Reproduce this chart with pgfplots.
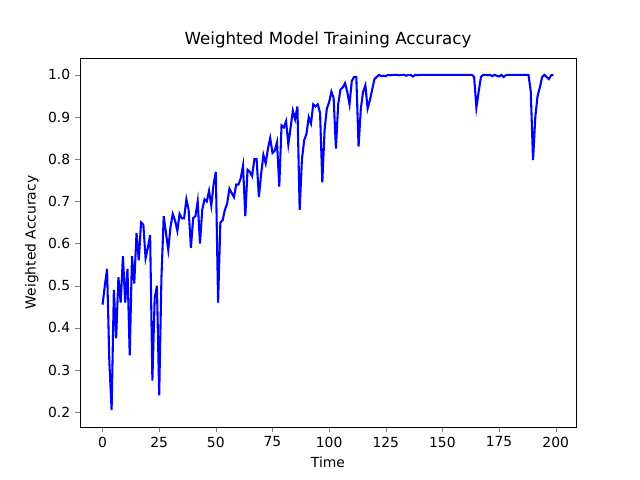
\documentclass[border=0pt]{standalone}
\usepackage{pgfplots}
\pgfplotsset{compat=1.18}
\usepackage{fontspec}
\setmainfont{DejaVu Sans}
\begin{document}
\begin{tikzpicture}
\useasboundingbox (-57.6pt,-38.16pt) rectangle (403.2pt,307.44pt);
\begin{axis}[at={(0,0)},anchor=south west,scale only axis,width=357.1pt,height=265.7pt,
xmin=-9.95,xmax=208.95,ymin=0.165,ymax=1.04,
xtick={0,25,...,200},ytick={0.2,0.3,...,1.0},
yticklabel style={/pgf/number format/.cd,fixed,fixed zerofill,precision=1},
/pgf/number format/assume math mode=true,
tick align=outside,tick pos=left,major tick length=3.5pt,
tick label style={font=\fontsize{10}{12}\selectfont},
label style={font=\fontsize{10}{12}\selectfont},
xlabel={Time},ylabel={Weighted Accuracy},
title={Weighted Model Training Accuracy},title style={font=\fontsize{12}{14}\selectfont,yshift=-2pt},
axis line style={line width=0.6pt}]
\addplot[blue,line width=1.5pt] coordinates {
(0,0.455)(1,0.50)(2,0.54)(3,0.32)(4,0.205)(5,0.49)(6,0.375)(7,0.52)(8,0.46)(9,0.57)
(10,0.46)(11,0.54)(12,0.335)(13,0.57)(14,0.505)(15,0.625)(16,0.56)(17,0.65)(18,0.645)(19,0.565)
(20,0.59)(21,0.62)(22,0.275)(23,0.47)(24,0.50)(25,0.24)(26,0.52)(27,0.665)(28,0.625)(29,0.585)
(30,0.64)(31,0.67)(32,0.655)(33,0.63)(34,0.67)(35,0.66)(36,0.66)(37,0.705)(38,0.68)(39,0.59)
(40,0.66)(41,0.665)(42,0.70)(43,0.60)(44,0.68)(45,0.705)(46,0.70)(47,0.725)(48,0.69)(49,0.74)
(50,0.77)(51,0.46)(52,0.65)(53,0.655)(54,0.68)(55,0.695)(56,0.73)(57,0.72)(58,0.71)(59,0.74)
(60,0.74)(61,0.755)(62,0.785)(63,0.665)(64,0.775)(65,0.77)(66,0.76)(67,0.80)(68,0.80)(69,0.71)
(70,0.765)(71,0.81)(72,0.79)(73,0.825)(74,0.85)(75,0.815)(76,0.82)(77,0.84)(78,0.735)(79,0.88)
(80,0.875)(81,0.89)(82,0.835)(83,0.875)(84,0.915)(85,0.895)(86,0.925)(87,0.68)(88,0.80)(89,0.845)
(90,0.86)(91,0.90)(92,0.885)(93,0.93)(94,0.925)(95,0.93)(96,0.91)(97,0.745)(98,0.87)(99,0.92)
(100,0.935)(101,0.96)(102,0.945)(103,0.825)(104,0.93)(105,0.965)(106,0.97)(107,0.98)(108,0.96)(109,0.93)
(110,0.985)(111,0.995)(112,0.995)(113,0.83)(114,0.92)(115,0.96)(116,0.975)(117,0.92)(118,0.94)(119,0.965)
(120,0.99)(121,0.995)(122,1.0)(123,0.997)(124,0.998)(125,0.997)(126,1.0)(127,0.999)(128,1.0)(129,1.0)
(130,1.0)(131,0.999)(132,1.0)(133,1.0)(134,0.998)(135,1.0)(136,1.0)(137,0.996)(138,1.0)(139,0.999)
(140,1.0)(141,1.0)(142,1.0)(143,1.0)(144,1.0)(145,1.0)(146,1.0)(147,1.0)(148,1.0)(149,1.0)
(150,1.0)(151,1.0)(152,1.0)(153,1.0)(154,1.0)(155,1.0)(156,1.0)(157,1.0)(158,1.0)(159,1.0)
(160,1.0)(161,1.0)(162,1.0)(163,1.0)(164,0.995)(165,0.922)(166,0.96)(167,0.995)(168,1.0)(169,1.0)
(170,0.999)(171,1.0)(172,0.997)(173,1.0)(174,0.998)(175,0.996)(176,1.0)(177,0.995)(178,0.999)(179,1.0)
(180,1.0)(181,1.0)(182,1.0)(183,1.0)(184,1.0)(185,1.0)(186,1.0)(187,1.0)(188,1.0)(189,0.96)
(190,0.798)(191,0.90)(192,0.95)(193,0.97)(194,0.995)(195,1.0)(196,0.995)(197,0.99)(198,0.999)(199,1.0)
};
\end{axis}
\end{tikzpicture}
\end{document}
